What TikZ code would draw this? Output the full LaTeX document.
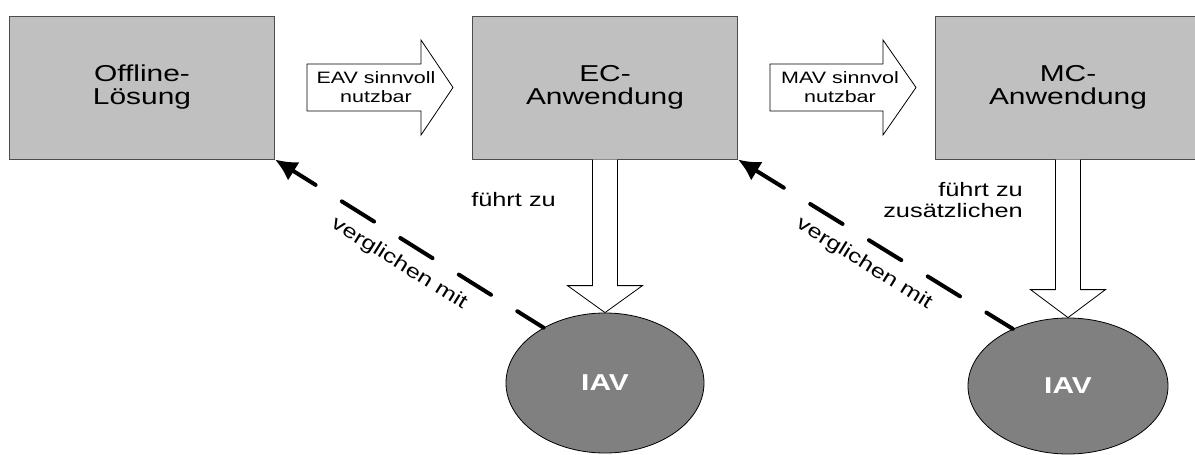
\documentclass[tikz,border=0pt]{standalone}
\usepackage{fontspec}
\setmainfont[FakeStretch=1.3]{Liberation Sans}
\usepackage{xcolor}
\usepackage{tikz}
\usetikzlibrary{calc, arrows.meta, positioning, shapes.geometric}

\definecolor{boxgray}{HTML}{C0C0C0}
\definecolor{iavgray}{HTML}{808080}

\begin{document}
\begin{tikzpicture}[x=1pt, y=-1pt]
		\tikzstyle{box} = [draw=black!70, fill=boxgray, line width=1pt, minimum width=265pt, minimum height=143pt, inner sep=0pt, align=center, font=\fontsize{23}{23}\selectfont]
		\tikzstyle{iav} = [draw=black, fill=iavgray, ellipse, line width=0.8pt, inner sep=0pt, text=white, font=\fontsize{23}{23}\selectfont\bfseries]
		\tikzstyle{fat} = [draw=black, fill=white, line width=0.8pt, line join=miter]
		\tikzstyle{fattext} = [inner sep=0pt, align=center, font=\fontsize{16.5}{18.5}\selectfont]
		\tikzstyle{note} = [inner sep=0pt, font=\fontsize{19.5}{21.5}\selectfont]
		\tikzstyle{cmp} = [-{Latex[length=22pt, width=22pt]}, line width=4pt, line cap=round, dash pattern=on 38pt off 31pt, dash phase=7pt]

		\useasboundingbox (0,0) rectangle (1195,455);

		\node[box]	at (142, 87.5)	(off)	{Offline-\\Lösung};
		\node[box]	at (605, 87.5)	(ec)	{EC-\\Anwendung};
		\node[box]	at (1068, 87.5)	(mc)	{MC-\\Anwendung};

		% block arrows between the boxes
		\draw[fat] (307,64) -- (421,64) -- (421,40) -- (453,87.5) -- (421,135) -- (421,111) -- (307,111) -- cycle;
		\node[fattext]	at (376, 87)	(eav)	{EAV sinnvoll\\nutzbar};
		\draw[fat] (770,64) -- (883,64) -- (883,40) -- (916,87.5) -- (883,135) -- (883,111) -- (770,111) -- cycle;
		\node[fattext]	at (840, 87)	(mav)	{MAV sinnvol\\nutzbar};

		\node[iav, minimum width=198pt, minimum height=140pt]	at (605, 383)	(iav1)	{IAV};
		\node[iav, minimum width=200pt, minimum height=136pt]	at (1068, 386)	(iav2)	{IAV};

		\draw[fat] ($(ec.south)+(-12.5,0)$) -- ($(iav1.north)+(-12.5,-27)$) -- ($(iav1.north)+(-37.5,-27)$) -- (iav1.north)
			-- ($(iav1.north)+(37.5,-27)$) -- ($(iav1.north)+(12.5,-27)$) -- ($(ec.south)+(12.5,0)$);
		\draw[fat] ($(mc.south)+(-12.5,0)$) -- ($(iav2.north)+(-12.5,-28)$) -- ($(iav2.north)+(-37.5,-28)$) -- (iav2.north)
			-- ($(iav2.north)+(37.5,-28)$) -- ($(iav2.north)+(12.5,-28)$) -- ($(mc.south)+(12.5,0)$);

		\node[note, anchor=east]	at (556, 199.5)	(fz1)	{führt zu};
		\node[note, anchor=east, align=right]	at (1023, 200)	(fz2)	{führt zu\\zusätzlichen};

		\draw[cmp] (iav1.138) -- (off.south east);
		\draw[cmp] (iav2.134) -- (ec.south east);
		\node[note, rotate=-32]	at (399, 264)	(vm1)	{verglichen mit};
		\node[note, rotate=-32]	at (864, 264)	(vm2)	{verglichen mit};
	\end{tikzpicture}
\end{document}
